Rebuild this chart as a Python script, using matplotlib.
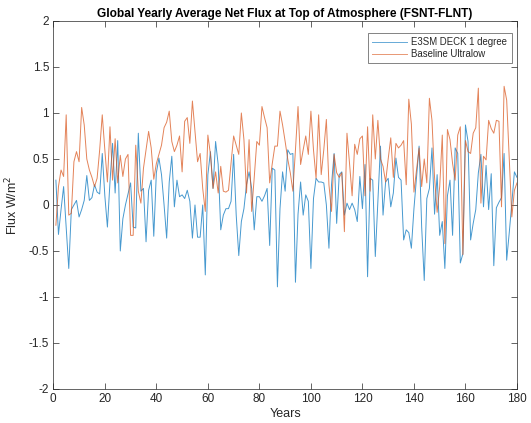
import numpy as np
import matplotlib
matplotlib.use("Agg")
import matplotlib.pyplot as plt

plt.rcParams['font.family'] = ['Liberation Sans', 'DejaVu Sans']

years = np.arange(1, 181)

e3sm_deck = [
    0.27, -0.32, -0.05, 0.20, -0.25, -0.69, -0.05, 0.00, 0.05, -0.13,
    -0.05, 0.05, 0.32, 0.05, 0.08, 0.22, 0.14, 0.12, 0.56, 0.10,
    -0.24, 0.25, 0.67, 0.13, 0.70, -0.50, -0.15, 0.00, 0.12, 0.24,
    -0.24, -0.25, 0.78, 0.15, 0.18, -0.40, 0.16, 0.27, -0.34, 0.35,
    0.51, 0.33, 0.00, -0.36, 0.25, 0.53, -0.02, 0.27, 0.09, 0.11,
    0.07, 0.16, 0.04, -0.36, 0.00, -0.35, -0.35, 0.00, -0.76, 0.33,
    0.58, 0.18, 0.69, 0.44, -0.27, -0.11, -0.04, -0.04, 0.04, 0.55,
    -0.11, -0.55, -0.18, -0.04, 0.22, 0.36, 0.18, -0.27, 0.09, 0.09,
    0.04, 0.10, 0.18, -0.44, 0.40, 0.38, -0.89, -0.04, 0.36, 0.15,
    0.60, 0.55, 0.56, -0.84, -0.10, 0.25, -0.11, 0.11, 0.04, -0.69,
    0.07, 0.29, 0.25, 0.25, 0.24, 0.00, -0.47, 0.22, 0.56, -0.20,
    0.33, 0.36, -0.11, 0.02, -0.05, 0.02, -0.05, -0.18, 0.31, -0.04,
    0.44, -0.78, 0.29, 0.27, -0.56, 0.05, 0.64, -0.11, 0.25, 0.29,
    -0.02, 0.13, 0.51, 0.30, 0.27, -0.38, -0.27, -0.30, -0.47, -0.04,
    0.30, 0.64, -0.24, -0.82, 0.07, 0.18, 0.62, -0.10, 0.33, -0.33,
    -0.18, -0.69, 0.10, 0.27, -0.33, 0.62, 0.56, -0.63, -0.53, 0.87,
    0.69, -0.38, -0.20, -0.05, 0.35, 0.55, -0.02, 0.43, -0.05, 0.34,
    -0.66, -0.03, 0.03, 0.08, 0.56, -0.60, -0.30, 0.02, 0.36, 0.30,
]

baseline_ultralow = [
    -0.22, 0.20, 0.38, 0.31, 0.98, -0.11, -0.09, 0.47, 0.58, 0.47,
    1.06, 0.87, 0.50, 0.38, 0.30, 0.20, 0.29, 0.60, 0.98, 0.60,
    0.25, 0.85, 0.27, 0.72, 0.24, 0.54, 0.31, 0.50, 0.55, -0.33,
    -0.33, 0.65, 0.15, 0.02, 0.40, 0.60, 0.80, 0.62, 0.28, 0.45,
    0.55, 0.65, 0.84, 0.90, 1.02, 0.69, 0.58, 0.65, 0.75, 0.36,
    0.91, 0.95, 0.67, 1.13, 0.80, 0.47, 0.56, 0.18, -0.07, 0.76,
    0.55, 0.18, 0.36, 0.13, 0.42, 0.15, 0.14, 0.16, 0.45, 0.75,
    0.65, 0.55, 1.00, 0.71, 0.13, 0.71, -0.07, 0.30, 0.69, 0.65,
    1.07, 0.95, 0.84, 0.24, 0.45, 0.64, 0.64, 1.02, 0.87, 0.69,
    0.50, 0.35, 0.15, 0.60, 1.07, 0.44, 0.60, 0.75, 0.55, 1.02,
    0.60, 0.29, 0.98, 0.33, 0.60, 0.93, 0.22, -0.07, 0.55, 0.35,
    0.30, 0.35, -0.29, 0.78, 0.45, 0.10, 0.66, 0.55, 0.72, 0.75,
    0.10, 0.85, 0.15, 0.98, 0.50, 0.92, 0.50, 0.42, 0.25, 0.50,
    0.73, 0.30, 0.67, 0.62, 0.65, 0.70, 0.22, 1.15, 0.88, 0.14,
    0.38, 0.62, 0.20, 0.50, 0.24, 1.16, 0.92, 0.30, -0.08, 0.20,
    0.76, -0.42, 0.82, 0.71, 0.45, 0.27, 0.76, 0.85, -0.54, 0.70,
    0.58, 0.56, 0.78, 0.84, 1.27, 0.02, 0.53, 0.49, 0.92, 0.83,
    0.78, 0.92, 0.91, -0.02, 1.29, 1.14, 0.50, -0.13, 0.16, 0.24,
]

x_ticks = list(range(0, 181, 20))
y_ticks = [-2, -1.5, -1, -0.5, 0, 0.5, 1, 1.5, 2]
y_tick_labels = ['-2', '-1.5', '-1', '-0.5', '0', '0.5', '1', '1.5', '2']

axis_grey = '#262626'

fig = plt.figure(figsize=(5.31, 4.23), dpi=100)
ax = fig.add_axes([0.1004, 0.0804, 0.8732, 0.870])

ax.plot(years, e3sm_deck, color='#0072BD', lw=0.7, alpha=0.72,
        label='E3SM DECK 1 degree')
ax.plot(years, baseline_ultralow, color='#D95319', lw=0.7, alpha=0.72,
        label='Baseline Ultralow')

ax.set_xlim(0, 180)
ax.set_ylim(-2, 2)
ax.set_xticks(x_ticks)
ax.set_yticks(y_ticks)
ax.set_yticklabels(y_tick_labels)

for side in ax.spines.values():
    side.set_color(axis_grey)
    side.set_linewidth(0.5)

ax.tick_params(direction='in', length=4, width=0.5, colors=axis_grey,
               labelsize=8.5, top=True, right=True, pad=3)

ax.set_xlabel('Years', fontsize=9, color=axis_grey, labelpad=2)
ax.set_ylabel('Flux W/m$^2$', fontsize=9, color=axis_grey, labelpad=6)
ax.set_title('Global Yearly Average Net Flux at Top of Atmosphere (FSNT-FLNT)',
             fontsize=8.6, fontweight='bold', color='black', pad=3)

leg = ax.legend(loc='upper right', fontsize=6.9, frameon=True, fancybox=False,
                handlelength=3.6, handletextpad=0.5, borderpad=0.45,
                labelspacing=0.2, borderaxespad=0.0,
                bbox_to_anchor=(0.9885, 0.968))
leg.get_frame().set_edgecolor(axis_grey)
leg.get_frame().set_linewidth(0.5)
for ln in leg.get_lines():
    ln.set_alpha(0.6)
for t in leg.get_texts():
    t.set_color(axis_grey)

fig.savefig('out.png', dpi=100)
